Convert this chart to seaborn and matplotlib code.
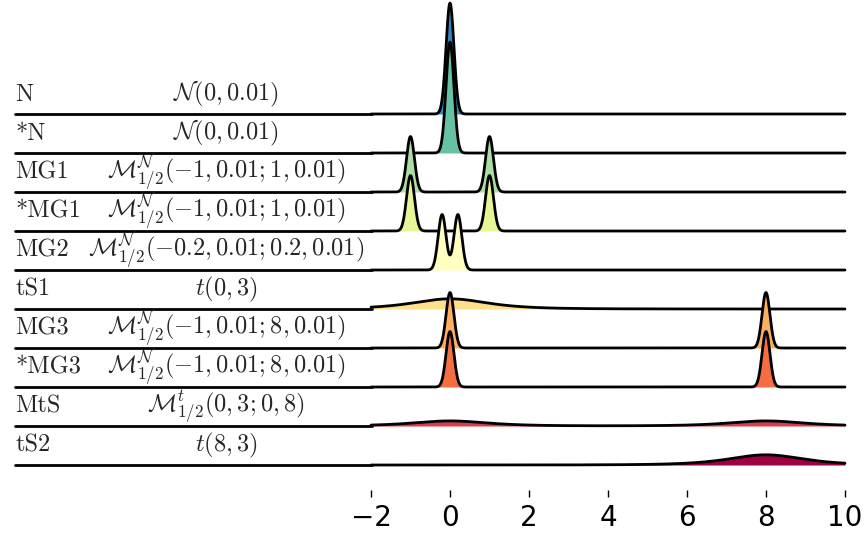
import numpy as np
import pandas as pd
import matplotlib
matplotlib.use("Agg")
import matplotlib.pyplot as plt
import matplotlib.transforms as mtransforms
import seaborn as sns
from math import gamma, pi, sqrt

# ── Data ──────────────────────────────────────────────────────────────────────
# one row per distribution; mixtures are weight_a * comp(loc_a) + (1 - weight_a) * comp(loc_b)

names = ["N", "*N", "MG1", "*MG1", "MG2", "tS1", "MG3", "*MG3", "MtS", "tS2"]
formulas = [
    r"$\mathcal{N}(0, 0.01)$",
    r"$\mathcal{N}(0, 0.01)$",
    r"$\mathcal{M}^{\mathcal{N}}_{1/2}(-1, 0.01; 1, 0.01)$",
    r"$\mathcal{M}^{\mathcal{N}}_{1/2}(-1, 0.01; 1, 0.01)$",
    r"$\mathcal{M}^{\mathcal{N}}_{1/2}(-0.2, 0.01; 0.2, 0.01)$",
    r"$t(0, 3)$",
    r"$\mathcal{M}^{\mathcal{N}}_{1/2}(-1, 0.01; 8, 0.01)$",
    r"$\mathcal{M}^{\mathcal{N}}_{1/2}(-1, 0.01; 8, 0.01)$",
    r"$\mathcal{M}^{t}_{1/2}(0, 3; 0, 8)$",
    r"$t(8, 3)$",
]
family   = ["norm", "norm", "norm", "norm", "norm", "t", "norm", "norm", "t", "t"]
loc_a    = [0, 0, -1, -1, -0.2, 0, 0, 0, 0, 8]
loc_b    = [0, 0, 1, 1, 0.2, 0, 8, 8, 8, 8]
weight_a = [1, 1, 0.5, 0.5, 0.5, 1, 0.5, 0.5, 0.5, 1]
spread   = [0.01, 0.01, 0.01, 0.01, 0.01, 3, 0.01, 0.01, 3, 3]   # variance (norm) / dof (t)

colors = ["#3288bd", "#66c2a5", "#abdda4", "#e6f598", "#ffffbf",
          "#fee08b", "#fdae61", "#f46d43", "#d53e4f", "#9e0142"]
x_ticks = [-2, 0, 2, 4, 6, 8, 10]


def pdf(kind, x, loc, s):
    if kind == "norm":
        return np.exp(-(x - loc) ** 2 / (2 * s)) / np.sqrt(2 * np.pi * s)
    c = gamma((s + 1) / 2) / (sqrt(s * pi) * gamma(s / 2))
    return c * (1 + (x - loc) ** 2 / s) ** (-(s + 1) / 2)


grid = np.linspace(-2, 10, 2401)
frames = []
for i, name in enumerate(names):
    dens = (weight_a[i] * pdf(family[i], grid, loc_a[i], spread[i])
            + (1 - weight_a[i]) * pdf(family[i], grid, loc_b[i], spread[i]))
    frames.append(pd.DataFrame({"row": name, "x": grid, "density": dens}))
df = pd.concat(frames, ignore_index=True)

# ── Plot ──────────────────────────────────────────────────────────────────────

sns.set_theme(style="white", rc={"axes.facecolor": (0, 0, 0, 0)})
plt.rcParams["mathtext.fontset"] = "cm"


def fill_density(data, color, label=None, **kws):
    plt.gca().fill_between(data["x"], data["density"], color=color, lw=0, clip_on=False)


g = sns.FacetGrid(df, row="row", hue="row", row_order=names, hue_order=names,
                  palette=colors, height=0.5, aspect=17)
g.map_dataframe(fill_density)
g.map_dataframe(sns.lineplot, x="x", y="density", color="black", lw=2,
                estimator=None, sort=False, clip_on=False)

g.set_titles("")
g.set(yticks=[], ylabel="", xlabel="", xlim=(-2, 10), ylim=(0, 4.1))
g.despine(bottom=True, left=True)

fig = g.figure
fig.set_size_inches(8.64, 5.35)
fig.subplots_adjust(left=0.4294, right=0.978, top=1.0, bottom=0.1308, hspace=-0.6579)

for i, ax in enumerate(g.axes.flat):
    ax.axhline(0, xmin=-0.751, xmax=0.002, color="black", lw=2, clip_on=False)
    tr = mtransforms.blended_transform_factory(fig.transFigure, ax.transAxes)
    ax.text(0.0174, 0.115, names[i], transform=tr, family="cmr10",
            ha="left", va="baseline", fontsize=17.5)
    ax.text(0.2616, 0.115, formulas[i], transform=tr,
            ha="center", va="baseline", fontsize=17.5)
    if i < len(names) - 1:
        ax.tick_params(bottom=False)

last = g.axes.flat[-1]
last.set_xticks(x_ticks)
last.spines["bottom"].set_position(("outward", 18))
last.tick_params(axis="x", bottom=True, length=5, width=1, color="black",
                 labelsize=20, labelcolor="black", pad=5)

fig.savefig("out.png", dpi=100)
